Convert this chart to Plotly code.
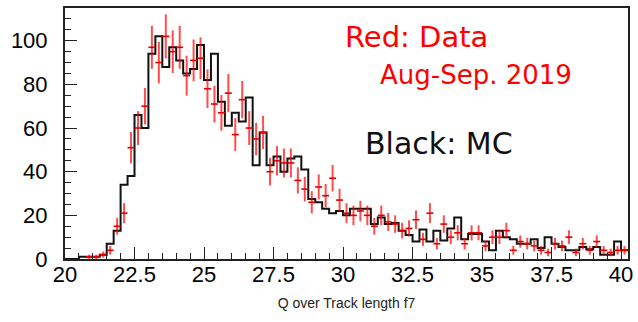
import numpy as np
import plotly.graph_objects as go

# Histogram binning (20 .. 40.25, 0.25 wide bins)
bin_lo = 20.0
bin_width = 0.25

# MC histogram contents (black)
mc_values = [
    0, 0, 1, 1, 1, 2, 7, 13, 34, 38,
    66, 60, 94, 102, 88, 97, 91, 85, 87, 98,
    82, 94, 72, 61, 67, 63, 74, 43, 58, 43,
    47, 40, 46, 47, 41, 27.5, 26, 23, 21, 22,
    20, 23, 23, 23, 16, 19, 16, 16.5, 13, 11,
    8, 13.5, 8, 13, 8.5, 14, 19, 9, 11.5, 11.5,
    8, 4, 13, 10, 9, 7, 7, 9, 5, 10,
    7, 5.5, 4, 4, 5.5, 4.5, 5.5, 2, 2, 8,
    4,
]

# Data histogram contents (red)
data_values = [
    0, 0, 0, 1, 1, 2, 4, 15, 21, 51,
    60, 70, 97, 90, 102, 95, 97, 84, 91, 92,
    78, 71, 67, 76, 57, 73, 60, 55, 58, 40,
    45, 44, 44, 36, 32, 26, 33, 29, 37, 27,
    21, 20, 22, 20, 15, 20, 17, 16, 13, 14,
    18, 9, 21, 7, 16, 10, 12, 7, 12, 12,
    6, 10, 10, 13, 4, 8, 7, 6, 4, 3,
    7, 6, 10, 3, 7, 4, 8, 4, 3, 4,
    4,
]

x_tick_vals = [20, 22.5, 25, 27.5, 30, 32.5, 35, 37.5, 40]
x_tick_text = ["20", "22.5", "25", "27.5", "30", "32.5", "35", "37.5", "40"]
y_tick_vals = [0, 20, 40, 60, 80, 100]
y_tick_text = ["0", "20", "40", "60", "80", "100"]

nb = len(mc_values)
edges = bin_lo + bin_width * np.arange(nb + 1)
centers = edges[:-1] + bin_width / 2

mc = np.array(mc_values, dtype=float)
dat = np.array(data_values, dtype=float)

fig = go.Figure()

# MC step outline
fig.add_trace(go.Scatter(
    x=edges,
    y=np.append(mc, mc[-1]),
    mode="lines",
    line=dict(shape="hv", color="#111111", width=2),
    hoverinfo="skip",
    showlegend=False,
))

# Data crosses (non-empty bins only)
mask = dat > 0
fig.add_trace(go.Scatter(
    x=centers[mask],
    y=dat[mask],
    mode="markers",
    marker=dict(size=1, color="rgba(0,0,0,0)"),
    error_x=dict(type="constant", value=bin_width / 2, width=0,
                 thickness=1.6, color="#e00000"),
    error_y=dict(type="data", array=np.sqrt(dat[mask]), width=0,
                 thickness=2, color="rgba(255,0,0,0.7)"),
    showlegend=False,
))

fig.update_layout(
    width=638, height=322,
    margin=dict(l=65, r=10, t=8, b=63),
    paper_bgcolor="white", plot_bgcolor="white",
    font=dict(family="Liberation Sans", color="black"),
    annotations=[
        dict(text="Red: Data", x=0.493, y=0.884, xref="paper", yref="paper",
             xanchor="left", yanchor="middle", showarrow=False,
             font=dict(family="DejaVu Sans", size=29, color="#ff0000")),
        dict(text="Aug-Sep. 2019", x=0.556, y=0.735, xref="paper", yref="paper",
             xanchor="left", yanchor="middle", showarrow=False,
             font=dict(family="DejaVu Sans", size=26, color="#ff0000")),
        dict(text="Black: MC", x=0.530, y=0.462, xref="paper", yref="paper",
             xanchor="left", yanchor="middle", showarrow=False,
             font=dict(family="DejaVu Sans", size=30, color="#111111")),
    ],
)

fig.update_xaxes(
    range=[bin_lo, bin_lo + bin_width * nb],
    automargin=False,
    tickmode="array", tickvals=x_tick_vals, ticktext=x_tick_text,
    ticks="inside", ticklen=12, tickwidth=1, tickcolor="#222",
    minor=dict(dtick=0.5, ticks="inside", ticklen=6, tickwidth=1, tickcolor="#222"),
    showline=True, linecolor="#222", linewidth=2, mirror=True,
    showgrid=False, zeroline=False,
    ticklabelstandoff=-5,
    tickfont=dict(family="Liberation Sans", size=22, color="black"),
    title=dict(text="Q over Track length f7", standoff=12,
               font=dict(family="Liberation Sans", size=14, color="#222")),
)
fig.update_yaxes(
    range=[0, 115],
    automargin=False,
    tickmode="array", tickvals=y_tick_vals, ticktext=y_tick_text,
    ticks="inside", ticklen=12, tickwidth=1, tickcolor="#222",
    minor=dict(dtick=5, ticks="inside", ticklen=6, tickwidth=1, tickcolor="#222"),
    showline=True, linecolor="#222", linewidth=2, mirror=True,
    showgrid=False, zeroline=False,
    ticklabelstandoff=11,
    tickfont=dict(family="Liberation Sans", size=22, color="black"),
)

fig.write_html("out.html", config=dict(displayModeBar=False, staticPlot=True),
               post_script="document.body.style.margin='0px';")
